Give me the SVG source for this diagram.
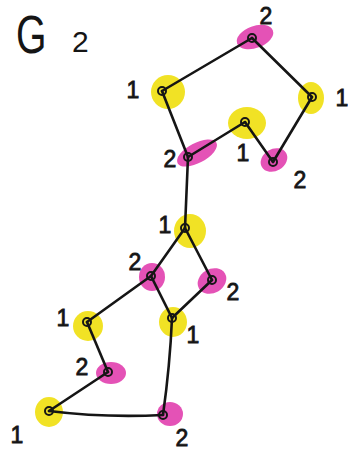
<svg xmlns="http://www.w3.org/2000/svg" width="348" height="455" viewBox="0 0 348 455">
  <style>
    .y { fill: #f0df12; opacity: 0.92; }
    .m { fill: #e13fae; opacity: 0.9; }
    .pt { fill: none; stroke: #161616; stroke-width: 2; }
    .edge { stroke: #151515; stroke-width: 2.6; stroke-linecap: round; fill: none; }
    .lbl { font-family: "Liberation Sans", Arial, sans-serif; font-size: 23px; fill: #151515; stroke: #151515; stroke-width: 0.8; text-anchor: middle; dominant-baseline: central; }
    .title { font-family: "Liberation Sans", Arial, sans-serif; fill: #151515; }
  </style>
  <rect width="348" height="455" fill="#ffffff"/>

  <!-- title -->
  <text class="title" transform="translate(16 53) scale(0.74 1)" x="0" y="0" font-size="53">G</text>
  <text class="title" x="72" y="52" font-size="30">2</text>

  <!-- colour patches under each vertex -->
  <g id="patches">
    <ellipse class="m" cx="255" cy="37" rx="19" ry="11" transform="rotate(-20 255 37)"/>
    <ellipse class="y" cx="168" cy="92" rx="17" ry="17"/>
    <ellipse class="y" cx="311" cy="98" rx="13" ry="16"/>
    <ellipse class="y" cx="247" cy="123" rx="19" ry="16"/>
    <ellipse class="m" cx="197" cy="153" rx="22" ry="10" transform="rotate(-28 197 153)"/>
    <ellipse class="m" cx="274" cy="160" rx="14" ry="11" transform="rotate(-30 274 160)"/>
    <ellipse class="y" cx="190" cy="231" rx="16" ry="17"/>
    <ellipse class="m" cx="152" cy="277" rx="13" ry="14"/>
    <ellipse class="m" cx="212" cy="281" rx="15" ry="12" transform="rotate(-30 212 281)"/>
    <ellipse class="y" cx="88" cy="326" rx="15" ry="15"/>
    <ellipse class="y" cx="173" cy="322" rx="14" ry="15"/>
    <ellipse class="m" cx="111" cy="373" rx="15" ry="11"/>
    <ellipse class="y" cx="49" cy="412" rx="14" ry="15"/>
    <ellipse class="m" cx="170" cy="414" rx="13" ry="12"/>
  </g>

  <!-- edges -->
  <g id="connectors">
    <line class="edge" x1="252" y1="38" x2="162" y2="91"/>
    <line class="edge" x1="252" y1="38" x2="312" y2="97"/>
    <line class="edge" x1="162" y1="91" x2="188" y2="157"/>
    <line class="edge" x1="312" y1="97" x2="273" y2="162"/>
    <line class="edge" x1="245" y1="122" x2="188" y2="157"/>
    <line class="edge" x1="245" y1="122" x2="273" y2="162"/>
    <line class="edge" x1="188" y1="157" x2="185" y2="228"/>
    <line class="edge" x1="185" y1="228" x2="151" y2="276"/>
    <line class="edge" x1="185" y1="228" x2="212" y2="280"/>
    <line class="edge" x1="151" y1="276" x2="172" y2="318"/>
    <line class="edge" x1="212" y1="280" x2="172" y2="318"/>
    <line class="edge" x1="151" y1="276" x2="87" y2="322"/>
    <line class="edge" x1="87" y1="322" x2="108" y2="372"/>
    <line class="edge" x1="108" y1="372" x2="49" y2="411"/>
    <path class="edge" d="M49 411 Q105 418 163 415"/>
    <path class="edge" d="M172 318 Q170 365 163 415"/>
  </g>

  <!-- vertices -->
  <g id="v1"><circle class="pt" cx="252" cy="38" r="4"/><text class="lbl" x="266" y="16">2</text></g>
  <g id="v2"><circle class="pt" cx="162" cy="91" r="4"/><text class="lbl" x="133" y="90">1</text></g>
  <g id="v3"><circle class="pt" cx="312" cy="97" r="4"/><text class="lbl" x="342" y="98">1</text></g>
  <g id="v4"><circle class="pt" cx="245" cy="122" r="4"/><text class="lbl" x="243" y="153">1</text></g>
  <g id="v5"><circle class="pt" cx="188" cy="157" r="4"/><text class="lbl" x="170" y="159">2</text></g>
  <g id="v6"><circle class="pt" cx="273" cy="162" r="4"/><text class="lbl" x="300" y="180">2</text></g>
  <g id="v7"><circle class="pt" cx="185" cy="228" r="4"/><text class="lbl" x="165" y="225">1</text></g>
  <g id="v8"><circle class="pt" cx="151" cy="276" r="4"/><text class="lbl" x="135" y="262">2</text></g>
  <g id="v9"><circle class="pt" cx="212" cy="280" r="4"/><text class="lbl" x="233" y="292">2</text></g>
  <g id="v10"><circle class="pt" cx="87" cy="322" r="4"/><text class="lbl" x="63" y="318">1</text></g>
  <g id="v11"><circle class="pt" cx="172" cy="318" r="4"/><text class="lbl" x="193" y="335">1</text></g>
  <g id="v12"><circle class="pt" cx="108" cy="372" r="4"/><text class="lbl" x="82" y="367">2</text></g>
  <g id="v13"><circle class="pt" cx="49" cy="411" r="4"/><text class="lbl" x="17" y="435">1</text></g>
  <g id="v14"><circle class="pt" cx="163" cy="415" r="4"/><text class="lbl" x="182" y="438">2</text></g>
</svg>
